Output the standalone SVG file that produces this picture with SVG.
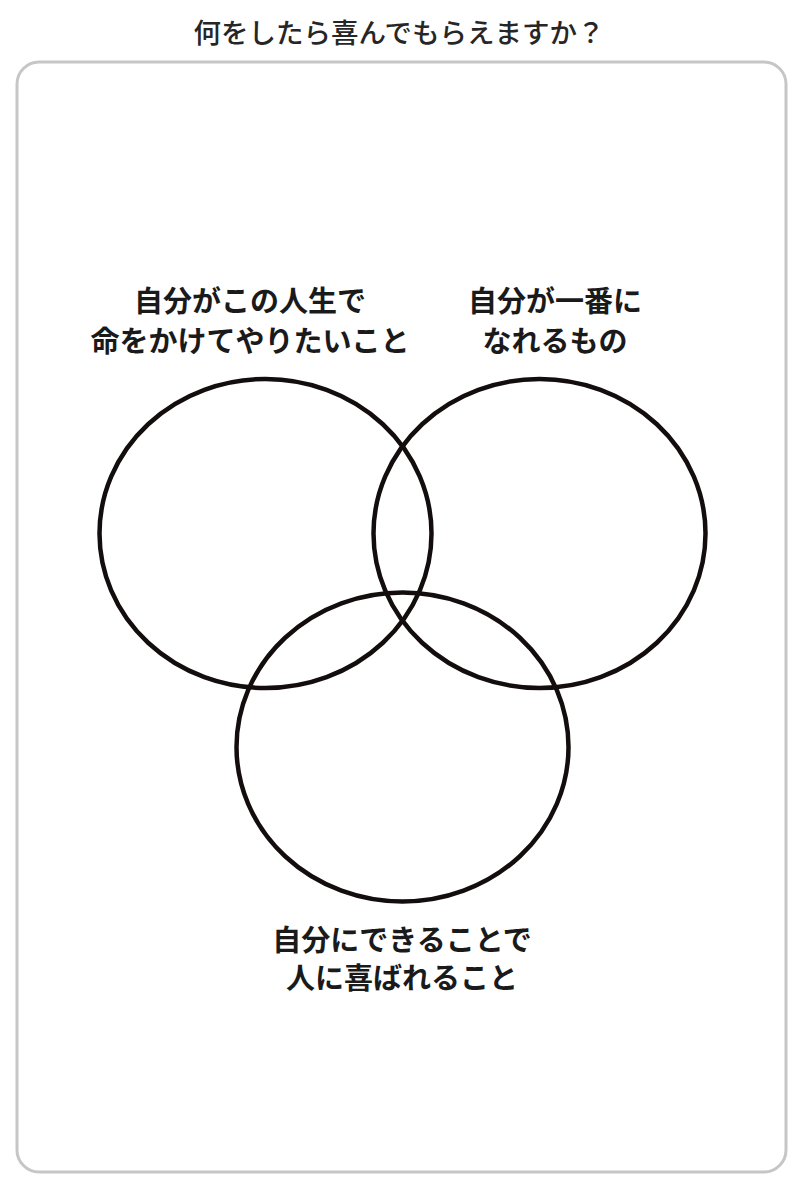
<svg xmlns="http://www.w3.org/2000/svg" width="800" height="1188" viewBox="0 0 800 1188">
  <style>
    .title { font-family: "Noto Sans CJK JP", "Noto Sans", sans-serif; font-size: 27.5px; font-weight: 500; fill: #262626; text-anchor: middle; }
    .label { font-family: "Noto Sans CJK JP", "Noto Sans", sans-serif; font-size: 29px; font-weight: 700; fill: #1a1a1a; text-anchor: middle; }
    .ring { fill: none; stroke: #130d0d; stroke-width: 4.5; }
  </style>
  <rect width="800" height="1188" fill="#ffffff"/>
  <text class="title" x="399" y="43">何をしたら喜んでもらえますか？</text>
  <rect x="17" y="62" width="769" height="1110" rx="22" ry="22" fill="#ffffff" stroke="#c6c6c6" stroke-width="3"/>
  <g id="connectors"></g>
  <g id="node-passion">
    <ellipse class="ring" cx="265.5" cy="533.5" rx="166" ry="154.5"/>
    <text class="label" x="250" y="312">自分がこの人生で</text>
    <text class="label" x="250" y="352">命をかけてやりたいこと</text>
  </g>
  <g id="node-best">
    <ellipse class="ring" cx="539.5" cy="533.5" rx="166" ry="154.5"/>
    <text class="label" x="555" y="312">自分が一番に</text>
    <text class="label" x="555" y="352">なれるもの</text>
  </g>
  <g id="node-ability">
    <ellipse class="ring" cx="402.5" cy="747" rx="166" ry="154.5"/>
    <text class="label" x="402" y="951">自分にできることで</text>
    <text class="label" x="402" y="989">人に喜ばれること</text>
  </g>
</svg>
